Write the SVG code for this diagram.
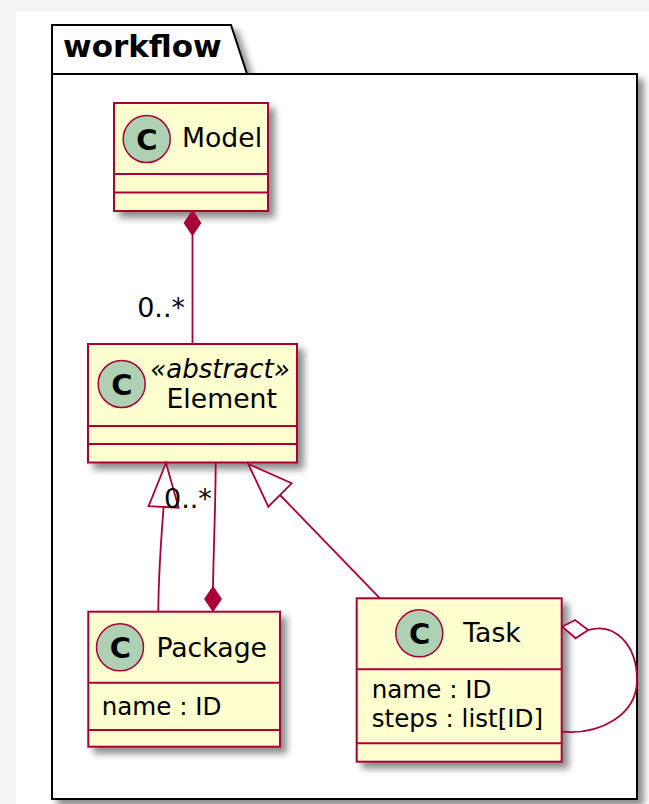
<svg xmlns="http://www.w3.org/2000/svg" width="649" height="804" viewBox="0 0 649 804">
<defs>
<style>
.cls{fill:#FEFECE;stroke:#A80036;stroke-width:2;}
.div{stroke:#A80036;stroke-width:2;fill:none;}
.circ{fill:#ADD1B2;stroke:#A80036;stroke-width:1.5;}
.cletter{font-family:"DejaVu Sans",sans-serif;font-weight:bold;font-size:29px;fill:#000;text-anchor:middle;}
.name{font-family:"DejaVu Sans",sans-serif;font-size:26.7px;fill:#000;text-anchor:middle;}
.stereo{font-family:"DejaVu Sans",sans-serif;font-style:italic;font-size:26px;fill:#000;text-anchor:middle;}
.attr{font-family:"DejaVu Sans",sans-serif;font-size:24.6px;fill:#000;}
.lbl{font-family:"DejaVu Sans",sans-serif;font-size:27px;fill:#000;}
.edge{stroke:#A80036;stroke-width:1.8;fill:none;}
.fdiam{fill:#A80036;stroke:#A80036;stroke-width:1.5;}
.hollow{fill:#FFFFFF;stroke:#A80036;stroke-width:1.8;}
</style>
<filter id="sh" x="-20%" y="-20%" width="140%" height="140%">
<feGaussianBlur in="SourceAlpha" stdDeviation="3.5"/>
<feOffset dx="6" dy="6" result="b"/>
<feFlood flood-color="#000" flood-opacity="0.45"/>
<feComposite in2="b" operator="in"/>
<feMerge><feMergeNode/><feMergeNode in="SourceGraphic"/></feMerge>
</filter>
</defs>
<rect x="0" y="0" width="649" height="804" fill="#F4F4F4"/>
<rect x="16" y="11" width="633" height="793" fill="#FFFFFF"/>

<g id="package-workflow">
<path d="M52,74 L52,25 L231,25 L247,74 L637,74 L637,799 L52,799 Z" fill="#FFFFFF" stroke="#000" stroke-width="2" filter="url(#sh)"/>
<line x1="52" y1="74" x2="247" y2="74" stroke="#000" stroke-width="2"/>
<text x="63" y="57" font-family="'DejaVu Sans',sans-serif" font-weight="bold" font-size="31" fill="#000">workflow</text>
</g>

<g id="Model">
<rect class="cls" x="114" y="103" width="154" height="108" filter="url(#sh)"/>
<line class="div" x1="114" y1="174" x2="268" y2="174"/>
<line class="div" x1="114" y1="192.5" x2="268" y2="192.5"/>
<circle class="circ" cx="146.7" cy="139" r="23.5"/>
<text class="cletter" x="147" y="149.5">C</text>
<text class="name" x="222" y="147.3">Model</text>
</g>

<g id="Element">
<rect class="cls" x="88" y="344" width="209" height="118.5" filter="url(#sh)"/>
<line class="div" x1="88" y1="426" x2="297" y2="426"/>
<line class="div" x1="88" y1="444" x2="297" y2="444"/>
<circle class="circ" cx="121.7" cy="384" r="23.5"/>
<text class="cletter" x="122" y="394.5">C</text>
<text class="stereo" x="220" y="378">«abstract»</text>
<text class="name" x="221.7" y="408.3">Element</text>
</g>

<g id="Package">
<rect class="cls" x="88.3" y="611.7" width="191.7" height="135" filter="url(#sh)"/>
<line class="div" x1="88.3" y1="682.7" x2="280" y2="682.7"/>
<line class="div" x1="88.3" y1="730" x2="280" y2="730"/>
<circle class="circ" cx="120" cy="647.3" r="23.5"/>
<text class="cletter" x="120.3" y="657.8">C</text>
<text class="name" x="211.7" y="656.7">Package</text>
<text class="attr" x="101.7" y="715">name : ID</text>
</g>

<g id="Task">
<rect class="cls" x="356.7" y="598.3" width="205" height="163.4" filter="url(#sh)"/>
<line class="div" x1="356.7" y1="669.3" x2="561.7" y2="669.3"/>
<line class="div" x1="356.7" y1="743.3" x2="561.7" y2="743.3"/>
<circle class="circ" cx="419.3" cy="633.3" r="23.5"/>
<text class="cletter" x="419.6" y="643.8">C</text>
<text class="name" x="492" y="641.7">Task</text>
<text class="attr" x="371.7" y="698.3">name : ID</text>
<text class="attr" x="371.7" y="726.7">steps : list[ID]</text>
</g>

<g id="connectors">
<line class="edge" x1="192.5" y1="235" x2="192.5" y2="344"/>
<polygon class="fdiam" points="192.5,211 200.5,223 192.5,235 184.5,223"/>
<text class="lbl" x="185" y="316.7" text-anchor="end">0..*</text>
<path class="edge" d="M158.3,611.7 C158.5,575 161,540 163.6,507"/>
<polygon class="hollow" points="166,463 148.6,506.1 178.6,507.7"/>
<path class="edge" d="M215.7,462.5 C215.5,510 213.5,550 213,587"/>
<polygon class="fdiam" points="213,587 221,599 213,611 205,599"/>
<text class="lbl" x="164" y="507.5">0..*</text>
<line class="edge" x1="280" y1="495" x2="380" y2="598.3"/>
<polygon class="hollow" points="248.3,464 268.3,506.7 291.7,483.3"/>
<path class="edge" d="M561.7,731.7 C600,735 637,715 637,680 C637,645 615,622 588.3,630"/>
<polygon class="hollow" points="562.3,626.7 575,620 588.3,630 575.6,638.3"/>
</g>
</svg>
